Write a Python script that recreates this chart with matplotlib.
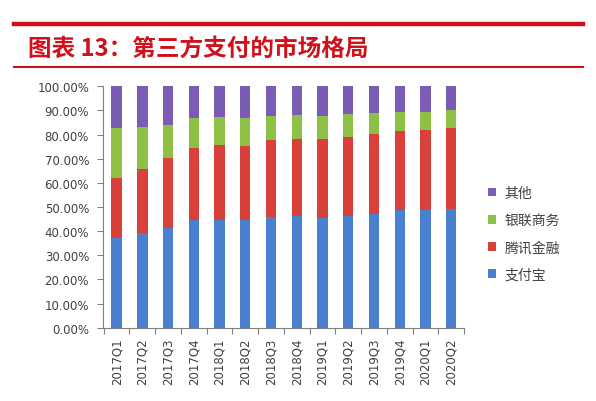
import matplotlib
matplotlib.use("Agg")
import matplotlib.pyplot as plt
import numpy as np
from matplotlib.lines import Line2D
from matplotlib.ticker import FuncFormatter, FixedLocator

plt.rcParams['font.family'] = ['Noto Sans CJK SC', 'DejaVu Sans']

quarters = ["2017Q1", "2017Q2", "2017Q3", "2017Q4", "2018Q1", "2018Q2", "2018Q3",
            "2018Q4", "2019Q1", "2019Q2", "2019Q3", "2019Q4", "2020Q1", "2020Q2"]
alipay = [37.1, 39.2, 41.3, 44.6, 44.6, 44.6, 45.7, 46.2, 45.4, 46.1, 47.0, 48.7, 48.7, 49.2]
tenpay = [25.1, 26.4, 29.1, 30.0, 30.9, 30.6, 31.9, 32.1, 32.6, 33.0, 33.3, 32.7, 33.3, 33.6]
unionpay = [20.6, 17.6, 13.5, 12.3, 11.8, 11.6, 10.0, 9.8, 9.9, 9.3, 8.7, 8.0, 7.4, 7.2]
other = [17.2, 16.8, 16.1, 13.1, 12.7, 13.2, 12.4, 11.9, 12.1, 11.6, 11.0, 10.6, 10.6, 10.0]

series_names = ["支付宝", "腾讯金融", "银联商务", "其他"]
colors = ["#4A80D0", "#D9403A", "#8DC044", "#7B5CB5"]
title = "图表 13：第三方支付的市场格局"

fig = plt.figure(figsize=(5.96, 4.02), dpi=100)
ax = fig.add_axes([0.1728, 0.1823, 0.6057, 0.6005])

x = np.arange(len(quarters))
bottom = np.zeros(len(quarters))
handles = []
for name, vals, c in zip(series_names, [alipay, tenpay, unionpay, other], colors):
    b = ax.bar(x, vals, width=0.4, bottom=bottom, color=c, label=name, linewidth=0)
    handles.append(b)
    bottom += np.array(vals)

ax.set_xlim(-0.53, len(quarters) - 0.5)
ax.set_ylim(0, 100)
ax.set_yticks(np.arange(0, 101, 10))
ax.yaxis.set_major_formatter(FuncFormatter(lambda v, p: f"{v:.2f}%"))

ax.xaxis.set_major_locator(FixedLocator(np.arange(-0.5, len(quarters), 1.0)))
ax.xaxis.set_major_formatter(FuncFormatter(lambda v, p: ""))
ax.set_xticks(x, minor=True)
ax.set_xticklabels(quarters, minor=True, rotation=90, fontsize=8.5, color="#404040",
                   family="DejaVu Sans")
ax.tick_params(axis='x', which='minor', length=0, pad=7)
ax.tick_params(axis='x', which='major', length=4, color="#808080", direction='out')
ax.tick_params(axis='y', length=4, color="#808080", labelsize=8.5, labelcolor="#404040", pad=6)
for lbl in ax.get_yticklabels():
    lbl.set_family("DejaVu Sans")

for s in ["top", "right"]:
    ax.spines[s].set_visible(False)
for s in ["left", "bottom"]:
    ax.spines[s].set_color("#808080")
    ax.spines[s].set_linewidth(0.8)

leg_h = handles[::-1]
leg_l = series_names[::-1]
fig.legend(leg_h, leg_l, loc='upper left', bbox_to_anchor=(0.818, 0.535),
           frameon=False, fontsize=10, handlelength=0.6, handleheight=0.6,
           handletextpad=0.6, labelspacing=0.95, borderpad=0, borderaxespad=0,
           labelcolor="#404040")

# title and decorative lines
fig.add_artist(Line2D([14/596, 583/596], [1 - 25/402, 1 - 25/402],
                      transform=fig.transFigure, color="#D0101A", linewidth=3.2))
fig.add_artist(Line2D([14/596, 583/596], [1 - 67.5/402, 1 - 67.5/402],
                      transform=fig.transFigure, color="#D0101A", linewidth=1.5))
fig.text(28/596, 1 - 48.5/402, title, color="#D0101A", fontsize=17, fontweight='bold',
         fontstyle='italic', va='center', ha='left')

fig.savefig("out.png", dpi=100)
